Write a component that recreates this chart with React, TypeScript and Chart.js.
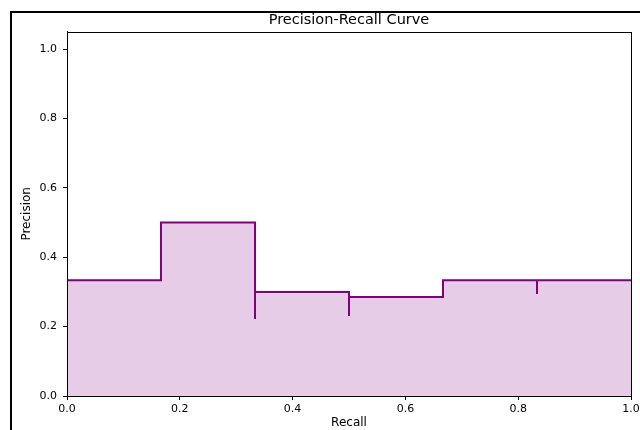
import React, { useEffect, useRef } from "react";
import { Chart, registerables } from "chart.js";

Chart.register(...registerables);

const recall = [0, 0.1667, 0.3333, 0.3333, 0.5, 0.5, 0.6667, 0.8333, 0.8333, 1.0];
const precision = [0.3333, 0.5, 0.2222, 0.3, 0.2308, 0.2857, 0.3333, 0.2941, 0.3333, 0.3333];
const xTicks = [0, 0.2, 0.4, 0.6, 0.8, 1.0];
const yTicks = [0, 0.2, 0.4, 0.6, 0.8, 1.0];

const FONT = "DejaVu Sans";

const framePlugin = {
  id: "frame",
  afterDraw(chart: any) {
    const { ctx, chartArea } = chart;
    ctx.save();
    ctx.strokeStyle = "#000";
    ctx.lineWidth = 1;
    ctx.strokeRect(
      Math.round(chartArea.left) + 0.5,
      Math.round(chartArea.top) + 0.5,
      Math.round(chartArea.right - chartArea.left),
      Math.round(chartArea.bottom - chartArea.top)
    );
    ctx.restore();
  },
};

export default function App() {
  const ref = useRef<HTMLCanvasElement | null>(null);
  useEffect(() => {
    if (!ref.current) return;
    const points = recall.map((r, i) => ({ x: r, y: precision[i] }));
    const chart = new Chart(ref.current, {
      type: "line",
      data: {
        datasets: [
          {
            data: points,
            borderColor: "#800080",
            borderWidth: 2,
            backgroundColor: "rgba(128,0,128,0.2)",
            fill: "origin",
            stepped: "before",
            pointRadius: 0,
            tension: 0,
          },
        ],
      },
      options: {
        animation: false,
        responsive: false,
        devicePixelRatio: 1,
        layout: { padding: { left: 0, top: 0, right: 69, bottom: 0 } },
        plugins: {
          legend: { display: false },
          tooltip: { enabled: false },
          title: {
            display: true,
            fullSize: false,
            text: "Precision-Recall Curve",
            color: "#000",
            font: { family: FONT, size: 14.5, weight: "normal" },
            padding: { top: 12, bottom: 2.3 },
          },
        },
        scales: {
          x: {
            type: "linear",
            min: 0,
            max: 1.0,
            afterBuildTicks: (axis: any) => {
              axis.ticks = xTicks.map((v) => ({ value: v }));
            },
            afterFit: (scale: any) => {
              scale.height = 44;
            },
            ticks: {
              color: "#000",
              font: { family: FONT, size: 11 },
              padding: 3,
              maxRotation: 0,
              callback: (v: any) => Number(v).toFixed(1),
            },
            grid: {
              drawOnChartArea: false,
              drawTicks: true,
              tickLength: 4,
              tickColor: "#000",
              tickWidth: 1,
            },
            border: { display: true, color: "#000", width: 1 },
            title: {
              display: true,
              text: "Recall",
              color: "#000",
              font: { family: FONT, size: 12 },
              padding: { top: 0, bottom: 10 },
            },
          },
          y: {
            type: "linear",
            min: 0,
            max: 1.05,
            afterBuildTicks: (axis: any) => {
              axis.ticks = yTicks.map((v) => ({ value: v }));
            },
            afterFit: (scale: any) => {
              scale.width = 67;
            },
            ticks: {
              color: "#000",
              font: { family: FONT, size: 11 },
              padding: 6,
              callback: (v: any) => Number(v).toFixed(1),
            },
            grid: {
              drawOnChartArea: false,
              drawTicks: true,
              tickLength: 4,
              tickColor: "#000",
              tickWidth: 1,
            },
            border: { display: true, color: "#000", width: 1 },
            title: {
              display: true,
              text: "Precision",
              color: "#000",
              font: { family: FONT, size: 12 },
              padding: { top: 20, bottom: 0 },
            },
          },
        },
      },
      plugins: [framePlugin],
    });
    return () => chart.destroy();
  }, []);

  return (
    <div
      style={{
        position: "fixed",
        left: 0,
        top: 0,
        width: 640,
        height: 430,
        overflow: "hidden",
        background: "#fff",
      }}
    >
      <div
        style={{
          position: "absolute",
          left: 10,
          top: 11,
          width: 800,
          height: 600,
          border: "2px solid #000",
        }}
      />
      <canvas
        ref={ref}
        width={700}
        height={440}
        style={{ position: "absolute", left: 0, top: 0, width: 700, height: 440 }}
      />
    </div>
  );
}
